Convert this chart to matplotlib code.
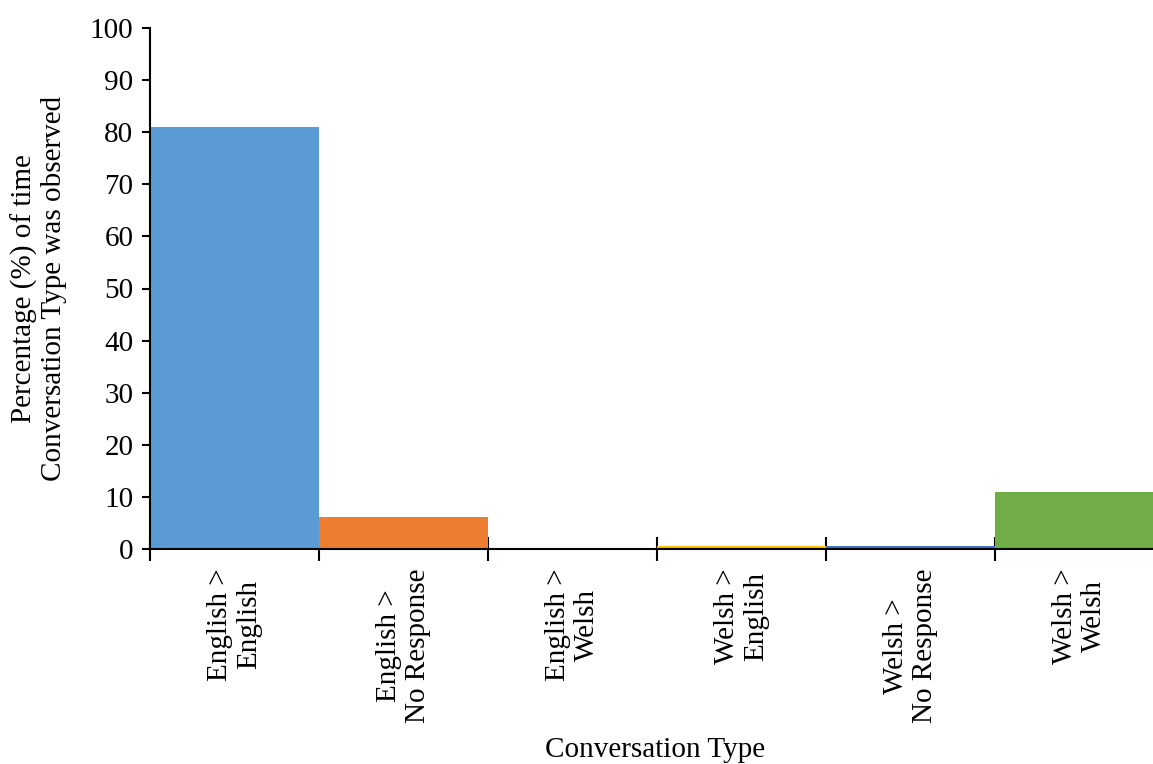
import matplotlib
matplotlib.use("Agg")
import matplotlib.pyplot as plt
import numpy as np

categories = ["English >\nEnglish", "English >\nNo Response", "English >\nWelsh",
              "Welsh >\nEnglish", "Welsh >\nNo Response", "Welsh >\nWelsh"]
values = [81.0, 6.1, 0.1, 0.6, 0.6, 10.9]
colors = ["#5B9BD5", "#ED7D31", "#A5A5A5", "#FFC000", "#4472C4", "#70AD47"]
y_ticks = list(range(0, 101, 10))

plt.rcParams["font.family"] = ["Liberation Serif", "DejaVu Serif"]

fig = plt.figure(figsize=(11.53, 7.64), dpi=100)
# plot area runs slightly past the right edge of the canvas
ax = fig.add_axes([150 / 1153, 1 - 549 / 764, 1014 / 1153, (549 - 28) / 764])

x = np.arange(len(categories))
ax.bar(x, values, width=1.0, color=colors, align="center", zorder=2)

ax.set_xlim(-0.5, len(categories) - 0.5)
ax.set_ylim(0, 100)
ax.set_yticks(y_ticks)
ax.tick_params(axis="y", labelsize=21, direction="out", length=6, width=1.5, pad=6)

# category boundaries as crossing ticks, labels centred under each bar
ax.set_xticks(np.arange(len(categories) + 1) - 0.5)
ax.set_xticklabels([])
ax.tick_params(axis="x", which="major", direction="inout", length=17, width=1.5)
ax.set_xticks(x, minor=True)
ax.set_xticklabels(categories, minor=True, rotation=90, fontsize=21,
                   ha="center", va="top", multialignment="center",
                   linespacing=1.15)
ax.tick_params(axis="x", which="minor", length=0, pad=14)

for side in ("top", "right"):
    ax.spines[side].set_visible(False)
for side in ("left", "bottom"):
    ax.spines[side].set_linewidth(1.5)

ax.set_ylabel("Percentage (%) of time\nConversation Type was observed", fontsize=21,
              linespacing=1.15)
ax.yaxis.set_label_coords(-0.082, 0.5)
ax.set_xlabel("Conversation Type", fontsize=21, va="center")
ax.xaxis.set_label_coords(0.498, -0.386)

fig.savefig("out.png", dpi=100)
